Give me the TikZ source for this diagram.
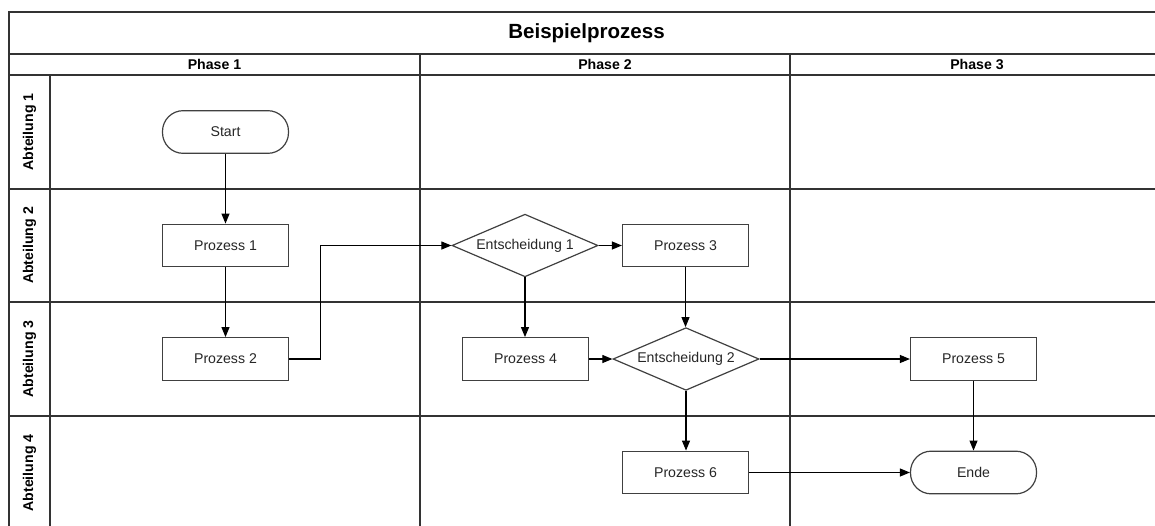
\documentclass[tikz,border=0pt]{standalone}
\usepackage{fontspec}
\setmainfont{Liberation Sans}
\usetikzlibrary{shapes.geometric,arrows.meta}
\begin{document}
\begin{tikzpicture}[x=0.75pt,y=-0.75pt,
  grid/.style={draw=black!80,line width=1.2pt},
  txt/.style={font=\fontsize{10.6pt}{12pt}\selectfont,text=black!85},
  head/.style={font=\bfseries\fontsize{10.6pt}{12pt}\selectfont,text=black},
  procbox/.style={txt,draw=black!75,line width=0.9pt,fill=white,rectangle,
    minimum width=94.5pt,minimum height=32pt,inner sep=0pt},
  termbox/.style={procbox,rounded corners=15.5pt},
  decbox/.style={txt,draw=black!75,line width=0.9pt,fill=white,diamond,
    aspect=2.35,minimum width=109.5pt,minimum height=47pt,inner sep=0pt},
  flow/.style={draw=black,line width=0.8pt,-{Triangle[length=7.5pt,width=6pt]}}]
\useasboundingbox (0,0) rectangle (1155,525);
\clip (0,0) rectangle (1155,525);

% swimlane table
\draw[grid] (9,530) -- (9,12) -- (1170,12);
\draw[grid] (9,54) -- (1170,54);
\draw[grid] (9,75) -- (1170,75);
\draw[grid] (9,189) -- (1170,189);
\draw[grid] (9,302) -- (1170,302);
\draw[grid] (9,416) -- (1170,416);
\draw[grid] (50,75) -- (50,530);
\draw[grid] (420,54) -- (420,530);
\draw[grid] (790,54) -- (790,530);

% headers
\node[font=\bfseries\fontsize{15.4pt}{18pt}\selectfont] (title) at (586.5,33) {Beispielprozess};
\node[head] (ph1) at (214.5,64.5) {Phase 1};
\node[head] (ph2) at (605,64.5) {Phase 2};
\node[head] (ph3) at (977,64.5) {Phase 3};
\node[head,rotate=90] (ab1) at (29.5,132) {Abteilung 1};
\node[head,rotate=90] (ab2) at (29.5,245.5) {Abteilung 2};
\node[head,rotate=90] (ab3) at (29.5,359) {Abteilung 3};
\node[head,rotate=90] (ab4) at (29.5,473) {Abteilung 4};

% flow chart
\node[termbox] (start) at (225.5,132) {Start};
\node[procbox] (p1) at (225.5,245.5) {Prozess 1};
\node[procbox] (p2) at (225.5,359) {Prozess 2};
\node[decbox]  (e1) at (525,245.5) {Entscheidung 1};
\node[procbox] (p3) at (685.5,245.5) {Prozess 3};
\node[procbox] (p4) at (525.5,359) {Prozess 4};
\node[decbox]  (e2) at (686,359) {Entscheidung 2};
\node[procbox] (p5) at (973.5,359) {Prozess 5};
\node[procbox] (p6) at (685.5,472.5) {Prozess 6};
\node[termbox] (ende) at (973.5,472.5) {Ende};

\draw[flow] (start) -- (p1);
\draw[flow] (p1) -- (p2);
\draw[flow] (p2.east) -- ++(31,0) |- (e1.west);
\draw[flow] (e1) -- (p3);
\draw[flow] (e1.south) -- (e1.south |- p4.north);
\draw[flow] (p3.south) -- (p3.south |- e2.north);
\draw[flow] (p4) -- (e2);
\draw[flow] (e2) -- (p5);
\draw[flow] (e2.south) -- (e2.south |- p6.north);
\draw[flow] (p5) -- (ende);
\draw[flow] (p6) -- (ende);
\end{tikzpicture}
\end{document}
